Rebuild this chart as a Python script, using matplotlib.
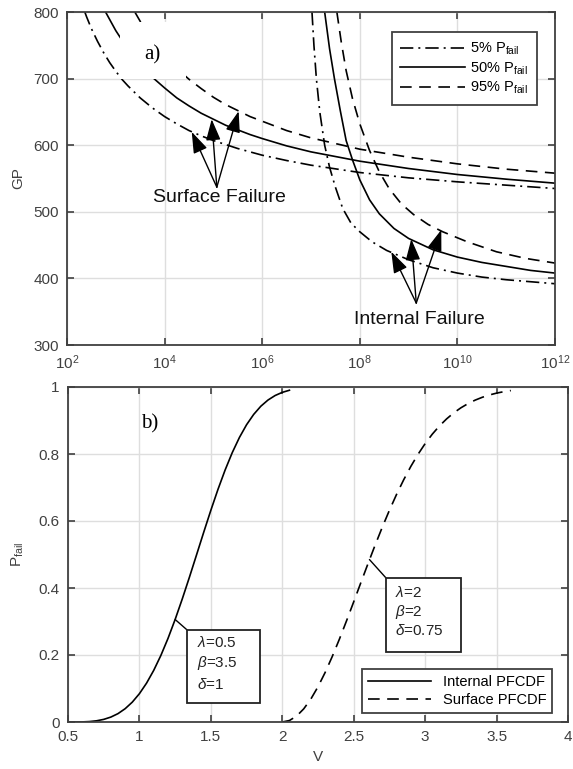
import matplotlib.pyplot as plt
from matplotlib.patches import Rectangle
from matplotlib.ticker import FixedLocator, NullLocator

plt.rcParams['font.family'] = ['Liberation Sans', 'DejaVu Sans']
plt.rcParams['mathtext.fontset'] = 'custom'
plt.rcParams['mathtext.rm'] = 'Liberation Sans'
plt.rcParams['mathtext.it'] = 'Liberation Sans:italic'
plt.rcParams['mathtext.bf'] = 'Liberation Sans:bold'

# ---- panel a) : GP vs cycles (log10 of N) ----
surf5_exp = [2.365, 2.4, 2.5, 2.625, 2.75, 2.875, 3.0, 3.125, 3.25, 3.5, 3.75, 4.0, 4.25, 4.5, 4.75,
             5.0, 5.25, 5.5, 5.75, 6.0, 6.5, 7.0, 8.0, 9.0, 10.0, 11.0, 12.0]
surf5_gp = [800, 793, 775, 756, 739, 724, 711, 699, 689, 671, 656, 643, 632, 622, 614,
            607, 601, 595, 590, 585, 577, 570, 559, 551, 545, 540, 535]

surf50_exp = [2.79, 3.0, 3.25, 3.5, 3.75, 4.0, 4.25, 4.5, 4.75, 5.0, 5.25, 5.5, 5.75, 6.0, 6.5,
              7.0, 8.0, 9.0, 10.0, 11.0, 12.0]
surf50_gp = [800, 772, 744, 721, 702, 686, 671, 659, 648, 639, 630, 623, 616, 610, 599,
             590, 576, 565, 556, 549, 543]

surf95_exp = [3.39, 3.5, 3.625, 3.75, 3.875, 4.0, 4.25, 4.5, 4.75, 5.0, 5.25, 5.5, 5.75, 6.0, 6.5,
              7.0, 8.0, 9.0, 10.0, 11.0, 12.0]
surf95_gp = [800, 786, 771, 758, 746, 735, 715, 699, 685, 672, 661, 652, 643, 636, 622,
             611, 594, 582, 572, 564, 558]

int5_exp = [7.02, 7.06, 7.11, 7.18, 7.28, 7.38, 7.5, 7.65, 7.82, 8.0, 8.25, 8.55, 9.0, 9.5, 10.0, 10.5, 11.0, 11.5, 12.0]
int5_gp = [800, 750, 700, 650, 600, 567, 537, 505, 483, 470, 455, 442, 428, 416, 408, 402, 398, 395, 392]

int50_exp = [7.28, 7.38, 7.48, 7.60, 7.72, 7.85, 8.0, 8.2, 8.4, 8.7, 9.0, 9.5, 10.0, 10.5, 11.0, 11.5, 12.0]
int50_gp = [800, 745, 700, 652, 607, 578, 548, 518, 497, 475, 460, 443, 432, 424, 418, 412, 408]

int95_exp = [7.53, 7.62, 7.72, 7.85, 8.0, 8.2, 8.4, 8.6, 8.85, 9.1, 9.4, 9.7, 10.2, 10.8, 11.4, 12.0]
int95_gp = [800, 755, 712, 670, 632, 592, 560, 535, 512, 496, 481, 470, 455, 440, 430, 423]

# arrow tips / tails (log10 N, GP)
surf_tips = [(4.556, 620), (4.965, 639), (5.517, 651)]
surf_tail = (5.07, 537)
int_tips = [(8.646, 440), (9.055, 459), (9.67, 473)]
int_tail = (9.157, 363)

# ---- panel b) : failure probability vs V ----
int_v = [0.5, 0.55, 0.6, 0.65, 0.7, 0.75, 0.8, 0.85, 0.9, 0.95, 1.0, 1.05, 1.1, 1.15, 1.2, 1.25,
         1.3, 1.35, 1.4, 1.45, 1.5, 1.55, 1.6, 1.65, 1.7, 1.75, 1.8, 1.85, 1.9, 1.95, 2.0, 2.05]
int_p = [0.0, 0.0, 0.0003, 0.0013, 0.0036, 0.0078, 0.0147, 0.0250, 0.0397, 0.0593, 0.0846, 0.1161,
         0.1541, 0.1986, 0.2495, 0.3061, 0.3675, 0.4323, 0.4992, 0.5664, 0.6321, 0.6946, 0.7524,
         0.8043, 0.8494, 0.8874, 0.9183, 0.9427, 0.9611, 0.9746, 0.9840, 0.9903]

surf_v = [2.0, 2.05, 2.1, 2.15, 2.2, 2.25, 2.3, 2.35, 2.4, 2.45, 2.5, 2.55, 2.6, 2.65, 2.7, 2.75,
          2.8, 2.85, 2.9, 2.95, 3.0, 3.05, 3.1, 3.15, 3.2, 3.25, 3.3, 3.35, 3.4, 3.45, 3.5, 3.55, 3.6]
surf_p = [0.0, 0.0044, 0.0176, 0.0392, 0.0686, 0.1052, 0.1479, 0.1957, 0.2475, 0.3023, 0.3588,
          0.4160, 0.4727, 0.5282, 0.5815, 0.6321, 0.6795, 0.7232, 0.7631, 0.7990, 0.8310, 0.8592,
          0.8837, 0.9047, 0.9227, 0.9378, 0.9504, 0.9608, 0.9693, 0.9762, 0.9817, 0.9860, 0.9894]

int_params = [r'$\lambda$=0.5', r'$\beta$=3.5', r'$\delta$=1']
surf_params = [r'$\lambda$=2', r'$\beta$=2', r'$\delta$=0.75']

axcol = '#404040'
gridcol = '#dedede'
lw = 1.2
dashdot = (0, (8, 3, 1.2, 3))
dashed = (0, (7, 4.5))
arrow_style = '-|>,head_length=1.3,head_width=0.45'


def to_n(exps):
    return [10.0 ** e for e in exps]


def style_axes(ax):
    ax.grid(True, color=gridcol, lw=1.0)
    ax.set_axisbelow(True)
    for s in ax.spines.values():
        s.set_color(axcol)
        s.set_linewidth(1.3)
    ax.tick_params(direction='in', length=5, width=1.2, top=True, right=True,
                   color=axcol, labelcolor=axcol, labelsize=11, pad=6)


fig = plt.figure(figsize=(5.73, 7.69), dpi=100)
ax1 = fig.add_axes([67 / 573, 1 - 345 / 769, 488 / 573, 333 / 769])
ax2 = fig.add_axes([68 / 573, 1 - 722 / 769, 500 / 573, 335 / 769])

# ---------------- panel a ----------------
ax1.plot(to_n(surf5_exp), surf5_gp, color='k', lw=lw, ls=dashdot, label=r'5% P$_{\mathregular{fail}}$')
ax1.plot(to_n(surf50_exp), surf50_gp, color='k', lw=lw, ls='-', label=r'50% P$_{\mathregular{fail}}$')
ax1.plot(to_n(surf95_exp), surf95_gp, color='k', lw=lw, ls=dashed, label=r'95% P$_{\mathregular{fail}}$')
ax1.plot(to_n(int5_exp), int5_gp, color='k', lw=lw, ls=dashdot)
ax1.plot(to_n(int50_exp), int50_gp, color='k', lw=lw, ls='-')
ax1.plot(to_n(int95_exp), int95_gp, color='k', lw=lw, ls=dashed)

ax1.set_xscale('log')
ax1.set_xlim(1e2, 1e12)
ax1.set_ylim(300, 800)
ax1.xaxis.set_major_locator(FixedLocator([1e2, 1e4, 1e6, 1e8, 1e10, 1e12]))
ax1.xaxis.set_minor_locator(NullLocator())
ax1.set_yticks([300, 400, 500, 600, 700, 800])
style_axes(ax1)
ax1.set_ylabel('GP', fontsize=11, color=axcol)
ax1.yaxis.set_label_coords(-0.085, 0.5)

# white background behind "a)"
ax1.add_patch(Rectangle((0.108, 0.80), 0.135, 0.17, transform=ax1.transAxes,
                        facecolor='white', edgecolor='none', zorder=3))
ax1.text(0.175, 0.872, 'a)', transform=ax1.transAxes, fontsize=15,
         family='Liberation Serif', ha='center', va='center', zorder=4)

for tip in surf_tips:
    ax1.annotate('', xy=(10 ** tip[0], tip[1]), xytext=(10 ** surf_tail[0], surf_tail[1]),
                 arrowprops=dict(arrowstyle=arrow_style, color='k',
                                 lw=1.0, shrinkA=0, shrinkB=0), zorder=5)
for tip in int_tips:
    ax1.annotate('', xy=(10 ** tip[0], tip[1]), xytext=(10 ** int_tail[0], int_tail[1]),
                 arrowprops=dict(arrowstyle=arrow_style, color='k',
                                 lw=1.0, shrinkA=0, shrinkB=0), zorder=5)
ax1.text(10 ** 5.13, 521, 'Surface Failure', fontsize=14, ha='center', va='center', color='#111111')
ax1.text(10 ** 9.22, 338, 'Internal Failure', fontsize=14, ha='center', va='center', color='#111111')

leg1 = ax1.legend(loc='upper right', bbox_to_anchor=(0.963, 0.94), borderaxespad=0,
                  fontsize=10.5, handlelength=4.4, handletextpad=0.4, fancybox=False, framealpha=1,
                  edgecolor=axcol, labelspacing=0.22, borderpad=0.6)
leg1.get_frame().set_linewidth(1.3)

# ---------------- panel b ----------------
ax2.plot(int_v, int_p, color='k', lw=lw, ls='-', label='Internal PFCDF')
ax2.plot(surf_v, surf_p, color='k', lw=lw, ls=dashed, label='Surface PFCDF')
ax2.set_xlim(0.5, 4)
ax2.set_ylim(0, 1)
ax2.set_xticks([0.5, 1, 1.5, 2, 2.5, 3, 3.5, 4])
ax2.set_xticklabels(['0.5', '1', '1.5', '2', '2.5', '3', '3.5', '4'])
ax2.set_yticks([0, 0.2, 0.4, 0.6, 0.8, 1])
ax2.set_yticklabels(['0', '0.2', '0.4', '0.6', '0.8', '1'])
style_axes(ax2)
ax2.set_xlabel('V', fontsize=11, color=axcol)
ax2.xaxis.set_label_coords(0.5, -0.085)
ax2.set_ylabel(r'P$_{\mathregular{fail}}$', fontsize=11, color=axcol)
ax2.yaxis.set_label_coords(-0.085, 0.5)

ax2.text(0.164, 0.89, 'b)', transform=ax2.transAxes, fontsize=15,
         family='Liberation Serif', ha='center', va='center')

# parameter boxes
for (x0, y0, x1, y1, tx, rows, params) in [
        (0.238, 0.057, 0.384, 0.275, 0.258, [0.236, 0.176, 0.113], int_params),
        (0.636, 0.209, 0.786, 0.430, 0.654, [0.388, 0.328, 0.272], surf_params)]:
    ax2.add_patch(Rectangle((x0, y0), x1 - x0, y1 - y0, transform=ax2.transAxes,
                            facecolor='white', edgecolor='#222222', lw=1.3, zorder=4))
    for ty, s in zip(rows, params):
        ax2.text(tx, ty, s, transform=ax2.transAxes, fontsize=11, ha='left', va='center',
                 color='#222222', zorder=5)

ax2.annotate('', xy=(1.25, 0.306), xytext=(0.238, 0.275), textcoords='axes fraction',
             arrowprops=dict(arrowstyle='-', color='k', lw=1.0, shrinkA=0, shrinkB=0))
ax2.annotate('', xy=(2.61, 0.485), xytext=(0.636, 0.430), textcoords='axes fraction',
             arrowprops=dict(arrowstyle='-', color='k', lw=1.0, shrinkA=0, shrinkB=0))

leg2 = ax2.legend(loc='lower right', bbox_to_anchor=(0.968, 0.027), borderaxespad=0,
                  fontsize=10.5, handlelength=4.3, fancybox=False, framealpha=1,
                  edgecolor=axcol, labelspacing=0.3, borderpad=0.4)
leg2.get_frame().set_linewidth(1.3)

fig.savefig('out.png', dpi=100)
